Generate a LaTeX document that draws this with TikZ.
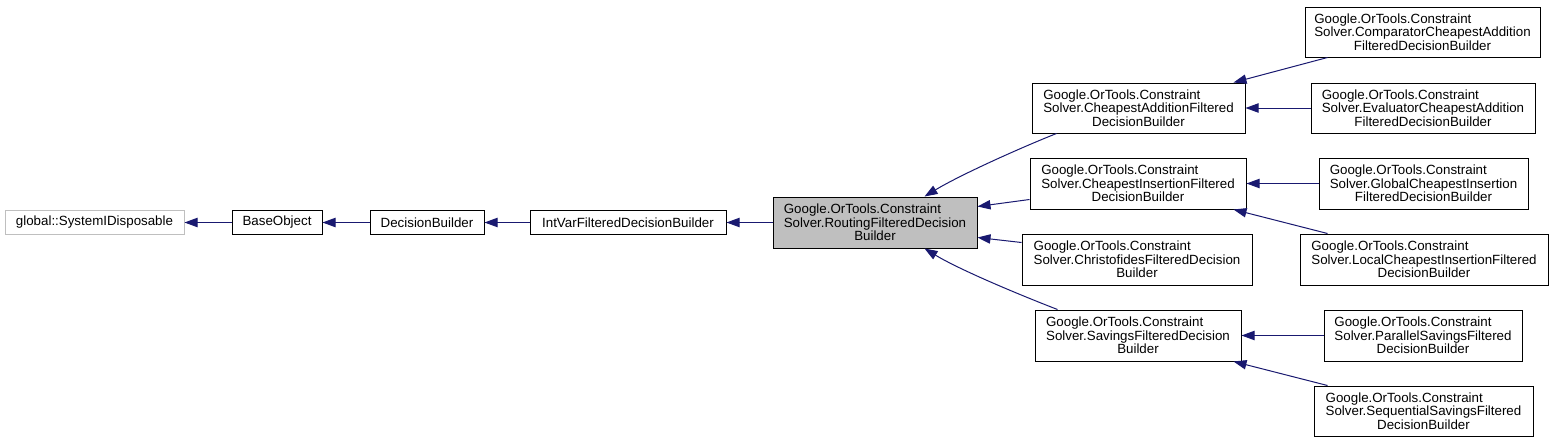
\documentclass[tikz,border=0pt]{standalone}
\usepackage{fontspec}
\setmainfont{Liberation Sans}
\usetikzlibrary{arrows.meta,calc}
\definecolor{edgec}{HTML}{191970}
\definecolor{grayfill}{HTML}{BFBFBF}
\definecolor{grayline}{HTML}{BFBFBF}
\newlength\tlw
\newcommand\tlines[3]{\settowidth{\tlw}{#2}\makebox[\tlw][l]{#1}\\#2\\#3}
\begin{document}
\begin{tikzpicture}[x=0.75pt,y=-0.75pt,
  cls/.style 2 args={draw=black,line width=0.75pt,inner sep=0pt,
    minimum width=#1*0.75pt,minimum height=#2*0.75pt,align=center,
    font=\fontsize{10}{10}\selectfont},
  inh/.style={draw=edgec,line width=0.75pt,-{Triangle[length=9.75pt,width=7pt,fill=edgec]}}
]
\useasboundingbox (0,0) rectangle (1553,443);
\fill[white] (0,0) rectangle (1553,443);

\node[cls={179}{24},draw=grayline] (gd) at (94.5,222.5) {global::SystemIDisposable};
\node[cls={90}{24}] (bo) at (277,222.5) {BaseObject};
\node[cls={114}{24}] (db) at (427,222.5) {DecisionBuilder};
\node[cls={196}{24}] (iv) at (628,222.5) {IntVarFilteredDecisionBuilder};
\node[cls={204}{51},fill=grayfill] (rt) at (875,222.5) {\tlines{Google.OrTools.Constraint}{Solver.RoutingFilteredDecision}{Builder}};

\node[cls={213}{50}] (ca) at (1138.5,108) {\tlines{Google.OrTools.Constraint}{Solver.CheapestAdditionFiltered}{DecisionBuilder}};
\node[cls={216}{51}] (ci) at (1138,183.5) {\tlines{Google.OrTools.Constraint}{Solver.CheapestInsertionFiltered}{DecisionBuilder}};
\node[cls={230}{51}] (ch) at (1137,259.5) {\tlines{Google.OrTools.Constraint}{Solver.ChristofidesFilteredDecision}{Builder}};
\node[cls={206}{51}] (sv) at (1138,335.5) {\tlines{Google.OrTools.Constraint}{Solver.SavingsFilteredDecision}{Builder}};

\node[cls={235}{50}] (cc) at (1422.5,32) {\tlines{Google.OrTools.Constraint}{Solver.ComparatorCheapestAddition}{FilteredDecisionBuilder}};
\node[cls={224}{50}] (ec) at (1423,108) {\tlines{Google.OrTools.Constraint}{Solver.EvaluatorCheapestAddition}{FilteredDecisionBuilder}};
\node[cls={209}{51}] (gc) at (1423.5,183.5) {\tlines{Google.OrTools.Constraint}{Solver.GlobalCheapestInsertion}{FilteredDecisionBuilder}};
\node[cls={248}{51}] (lc) at (1424,259.5) {\tlines{Google.OrTools.Constraint}{Solver.LocalCheapestInsertionFiltered}{DecisionBuilder}};
\node[cls={198}{51}] (ps) at (1423,335.5) {\tlines{Google.OrTools.Constraint}{Solver.ParallelSavingsFiltered}{DecisionBuilder}};
\node[cls={219}{50}] (ss) at (1423.5,411) {\tlines{Google.OrTools.Constraint}{Solver.SequentialSavingsFiltered}{DecisionBuilder}};

\draw[inh] (bo) -- (gd);
\draw[inh] (db) -- (bo);
\draw[inh] (iv) -- (db);
\draw[inh] (rt) -- (iv);

\draw[inh] ($(ca.south west)+(25,0)$) .. controls (1020,148) and (960,175) .. ($(rt.north west)+(152,0)$);
\draw[inh] ($(ci.south west)+(0,-10)$) -- ($(rt.north east)+(0,10)$);
\draw[inh] ($(ch.north west)+(0,9)$) -- ($(rt.south east)+(0,-11)$);
\draw[inh] ($(sv.north west)+(23,0)$) .. controls (1020,295) and (960,270) .. ($(rt.south west)+(152,0)$);

\draw[inh] ($(cc.south west)+(23,0)$) -- ($(ca.north east)+(-12,0)$);
\draw[inh] (ec) -- (ca);
\draw[inh] (gc) -- (ci);
\draw[inh] ($(lc.north west)+(28,0)$) -- ($(ci.south east)+(-13,0)$);
\draw[inh] (ps) -- (sv);
\draw[inh] ($(ss.north west)+(14,0)$) -- ($(sv.south east)+(-8,0)$);
\end{tikzpicture}
\end{document}
